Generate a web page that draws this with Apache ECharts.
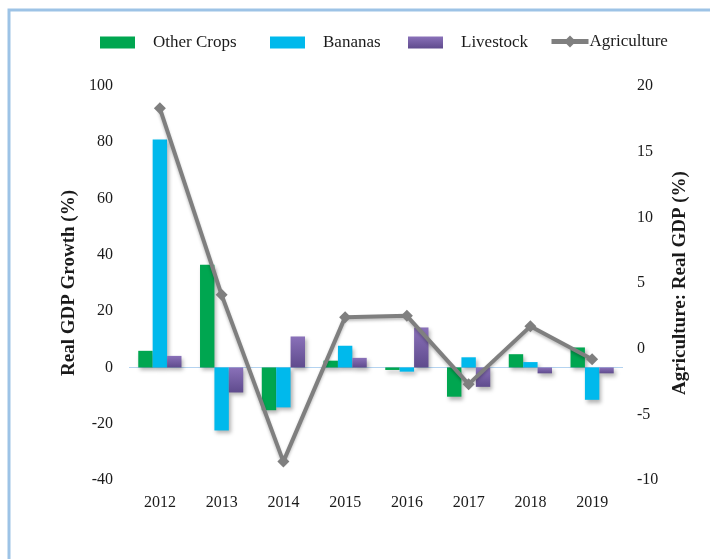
<!DOCTYPE html>
<html>
<head>
<meta charset="utf-8">
<script src="https://cdn.jsdelivr.net/npm/echarts@6/dist/echarts.min.js"></script>
<style>
  html, body { margin: 0; padding: 0; background: #fff; }
  #chart { width: 710px; height: 559px; }
</style>
</head>
<body>
<div id="chart"></div>
<script>
const years = ['2012', '2013', '2014', '2015', '2016', '2017', '2018', '2019']
const otherCrops = [5.9, 36.5, -15.2, 2.4, -0.9, -10.4, 4.7, 7.1]
const bananas = [81, -22.4, -14.2, 7.7, -1.5, 3.6, 1.9, -11.5]
const livestock = [4.1, -8.9, 11, 3.4, 14.2, -6.9, -2.1, -2.1]
const agriculture = [18.3, 4.1, -8.6, 2.4, 2.5, -2.7, 1.7, -0.8]

const font = 'Liberation Serif'
const textColor = '#1a1a1a'

const barShadow = {
  shadowColor: 'rgba(0,0,0,0.3)',
  shadowBlur: 4,
  shadowOffsetX: 2,
  shadowOffsetY: 3,
}

function legendFor(name, left, padLeft, icon) {
  return {
    data: [icon ? { name, icon } : name],
    left,
    top: icon ? 29 : 28,
    itemWidth: icon ? 35 : 37,
    itemHeight: icon ? 12 : 15,
    lineStyle: { width: 5 },
    textStyle: {
      fontFamily: font,
      fontSize: 17,
      color: textColor,
      padding: [0, 0, 0, padLeft],
    },
  }
}

const chart = echarts.init(document.getElementById('chart'))

chart.setOption({
  backgroundColor: '#fff',
  animation: false,
  graphic: [
    {
      type: 'polyline',
      silent: true,
      shape: { points: [[9, 559], [9, 10], [710, 10]] },
      style: { stroke: '#9dc3e6', lineWidth: 3, fill: null },
    },
  ],
  legend: [
    legendFor('Other Crops', 95, 13, 'rect'),
    legendFor('Bananas', 265, 13, 'rect'),
    legendFor('Livestock', 403, 13, 'rect'),
    legendFor('Agriculture', 544, -4),
  ],
  grid: {
    left: 129,
    right: 87,
    top: 86,
    bottom: 79,
  },
  xAxis: {
    type: 'category',
    data: years,
    axisLine: { show: false },
    axisTick: { show: false },
    axisLabel: {
      fontFamily: font,
      fontSize: 16,
      color: textColor,
      margin: 15,
    },
  },
  yAxis: [
    {
      type: 'value',
      min: -40,
      max: 100,
      interval: 20,
      splitLine: { show: false },
      axisLine: { show: false },
      axisLabel: {
        fontFamily: font,
        fontSize: 16,
        color: textColor,
        margin: 16,
      },
      name: 'Real GDP Growth (%)',
      nameLocation: 'middle',
      nameRotate: 90,
      nameGap: 43,
      nameTextStyle: {
        fontFamily: font,
        fontWeight: 'bold',
        fontSize: 19,
        color: textColor,
      },
    },
    {
      type: 'value',
      min: -10,
      max: 20,
      interval: 5,
      splitLine: { show: false },
      axisLine: { show: false },
      axisLabel: {
        fontFamily: font,
        fontSize: 16,
        color: textColor,
        margin: 14,
      },
      name: 'Agriculture: Real GDP (%)',
      nameLocation: 'middle',
      nameRotate: 90,
      nameGap: 48,
      nameTextStyle: {
        fontFamily: font,
        fontWeight: 'bold',
        fontSize: 19,
        color: textColor,
      },
    },
  ],
  series: [
    {
      name: 'Other Crops',
      type: 'bar',
      data: otherCrops,
      barGap: '0%',
      barCategoryGap: '30%',
      itemStyle: { color: '#00a650', ...barShadow },
      markLine: {
        silent: true,
        symbol: 'none',
        label: { show: false },
        lineStyle: { color: '#b4d3f0', width: 1, type: 'solid' },
        data: [{ yAxis: 0 }],
        z: 1,
      },
    },
    {
      name: 'Bananas',
      type: 'bar',
      data: bananas,
      itemStyle: { color: '#00b9ec', ...barShadow },
    },
    {
      name: 'Livestock',
      type: 'bar',
      data: livestock,
      itemStyle: {
        color: new echarts.graphic.LinearGradient(0, 0, 0, 1, [
          { offset: 0, color: '#8a71b9' },
          { offset: 1, color: '#5f4b8d' },
        ]),
        ...barShadow,
      },
    },
    {
      name: 'Agriculture',
      type: 'line',
      yAxisIndex: 1,
      data: agriculture,
      symbol: 'diamond',
      symbolSize: 12,
      z: 5,
      lineStyle: {
        color: '#7f7f7f',
        width: 4,
        shadowColor: 'rgba(0,0,0,0.25)',
        shadowBlur: 3,
        shadowOffsetY: 2,
      },
      itemStyle: { color: '#7f7f7f' },
    },
  ],
})
</script>
</body>
</html>
